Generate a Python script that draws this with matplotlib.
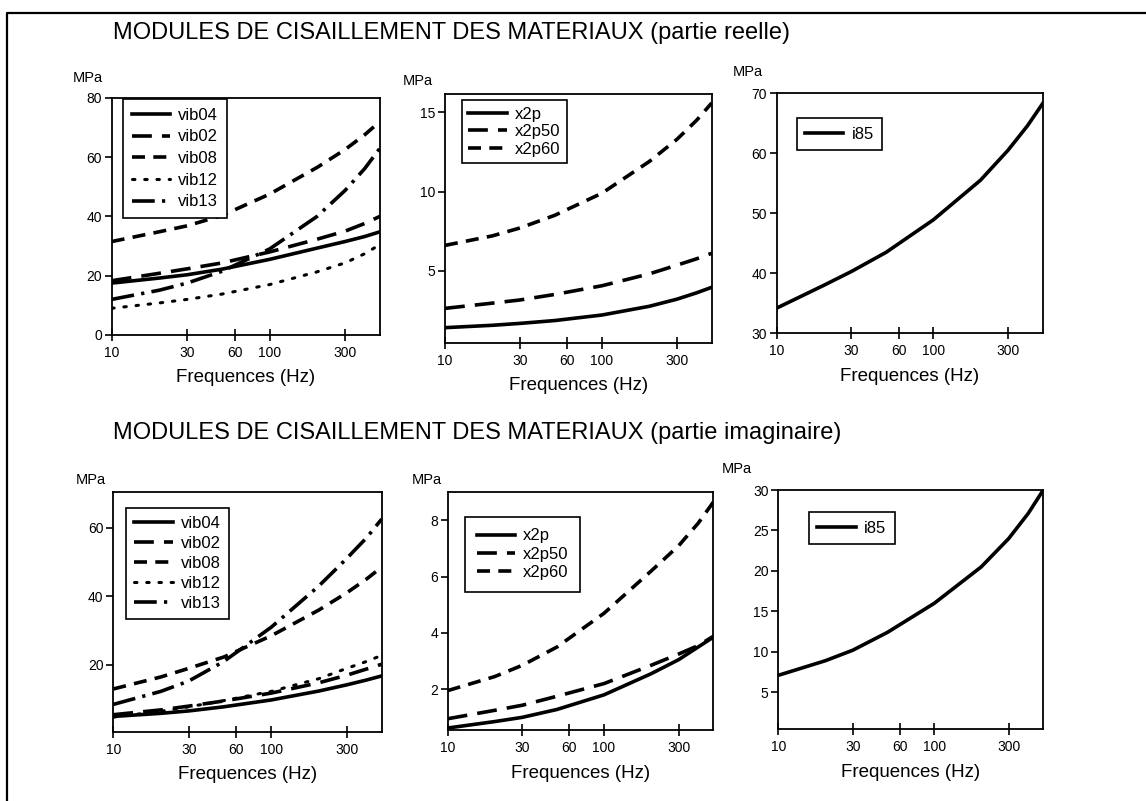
import matplotlib
matplotlib.use('Agg')
import matplotlib.pyplot as plt
from matplotlib.lines import Line2D

plt.rcParams['font.family'] = ['Liberation Sans', 'DejaVu Sans']

# frequencies (Hz) where the curves were read
freq = [10, 20, 30, 50, 100, 200, 300, 400, 500]

# partie reelle (MPa)
re_vib04 = [17.5, 19.2, 20.3, 22.2, 25.5, 29.3, 31.5, 33.2, 34.8]
re_vib02 = [18.3, 20.8, 22.3, 24.3, 28.0, 32.3, 35.0, 37.6, 40.0]
re_vib08 = [31.5, 34.8, 36.8, 40.3, 47.5, 56.5, 62.5, 67.5, 72.0]
re_vib12 = [9.0, 10.8, 12.0, 13.8, 17.0, 21.3, 24.3, 27.4, 30.5]
re_vib13 = [12.0, 15.1, 17.5, 21.5, 29.0, 40.0, 48.7, 56.1, 63.0]
re_x2p = [1.4, 1.55, 1.67, 1.85, 2.2, 2.75, 3.2, 3.6, 3.95]
re_x2p50 = [2.62, 2.95, 3.15, 3.5, 4.05, 4.8, 5.35, 5.75, 6.1]
re_x2p60 = [6.6, 7.2, 7.7, 8.5, 9.9, 11.9, 13.3, 14.5, 15.6]
re_i85 = [34.2, 38.0, 40.3, 43.5, 48.9, 55.5, 60.5, 64.6, 68.3]

# partie imaginaire (MPa)
im_vib04 = [5.0, 5.9, 6.6, 7.8, 9.8, 12.4, 14.2, 15.6, 16.8]
im_vib02 = [5.5, 6.9, 8.0, 9.5, 11.8, 14.8, 17.0, 18.8, 20.2]
im_vib08 = [13.0, 16.5, 19.0, 22.3, 28.5, 36.0, 41.0, 45.0, 48.5]
im_vib12 = [4.8, 6.5, 7.8, 9.6, 12.3, 16.0, 19.0, 21.0, 22.8]
im_vib13 = [8.5, 12.3, 15.3, 21.0, 31.0, 43.0, 51.0, 57.0, 62.5]
im_x2p = [0.62, 0.85, 1.0, 1.28, 1.8, 2.55, 3.05, 3.5, 3.85]
im_x2p50 = [0.95, 1.25, 1.43, 1.75, 2.2, 2.85, 3.25, 3.55, 3.88]
im_x2p60 = [1.95, 2.45, 2.85, 3.5, 4.7, 6.2, 7.1, 7.9, 8.65]
im_i85 = [7.1, 8.9, 10.2, 12.4, 16.0, 20.5, 24.0, 27.1, 30.0]

xticks = [10, 30, 60, 100, 300]
xlabels = ['10', '30', '60', '100', '300']

# line style of each material
solid = dict(linestyle='-', lw=2.6)
longdash = dict(linestyle=(0, (5.5, 2.8)), lw=2.6)
dash = dict(linestyle=(0, (3.6, 2.3)), lw=2.6)
dots = dict(linestyle=(0, (0.8, 3.2)), lw=2.2, dash_capstyle='round')
dashdot = dict(linestyle=(0, (6.3, 2.0, 0.9, 2.0)), lw=2.6)

fig = plt.figure(figsize=(11.46, 8.01), dpi=100)

def px(v):  # pixels -> points
    return v * 72.0 / 100.0

def panel(rect, curves, ylim, yticks, leg_xy, mpa_xy, lspace=0.3, bpad=0.5):
    ax = fig.add_axes(rect)
    for y, lab, st in curves:
        ax.plot(freq, y, color='black', label=lab, **st)
    ax.set_xscale('log')
    ax.set_xlim(10, 500)
    ax.set_ylim(*ylim)
    ax.set_xticks(xticks)
    ax.set_xticklabels(xlabels)
    ax.minorticks_off()
    ax.set_yticks(yticks)
    ax.tick_params(axis='y', direction='out', length=5, width=1.2, pad=2, labelsize=10)
    ax.tick_params(axis='x', direction='inout', length=8, width=1.2, pad=4, labelsize=10)
    for s in ax.spines.values():
        s.set_linewidth(1.3)
    ax.annotate('Frequences (Hz)', xy=(0.5, 0), xycoords='axes fraction',
                xytext=(0, -px(43)), textcoords='offset points',
                ha='center', va='center', fontsize=13.5)
    ax.annotate('MPa', xy=(0, 1), xycoords='axes fraction',
                xytext=(px(mpa_xy[0]), px(mpa_xy[1])), textcoords='offset points',
                ha='left', va='center', fontsize=10.5)
    leg = ax.legend(loc='upper left', bbox_to_anchor=leg_xy, borderaxespad=0,
                    fontsize=12, handlelength=2.3, handletextpad=0.5,
                    labelspacing=lspace, borderpad=bpad, fancybox=False,
                    framealpha=1, edgecolor='black')
    leg.get_frame().set_linewidth(1.2)
    return ax

W, H = 1146.0, 801.0
def rect(l, t, r, b):
    return [l / W, 1 - b / H, (r - l) / W, (b - t) / H]

panel(rect(111.7, 97.7, 380, 335),
      [(re_vib04, 'vib04', solid), (re_vib02, 'vib02', longdash),
       (re_vib08, 'vib08', dash), (re_vib12, 'vib12', dots),
       (re_vib13, 'vib13', dashdot)],
      (0, 80), [0, 20, 40, 60, 80], (0.043, 0.993), (-39, 20), lspace=0.4)

panel(rect(445, 94.3, 711.7, 342.7),
      [(re_x2p, 'x2p', solid), (re_x2p50, 'x2p50', longdash),
       (re_x2p60, 'x2p60', dash)],
      (0.45, 16.15), [5, 10, 15], (0.063, 0.977), (-42, 13), lspace=0.15, bpad=0.4)

panel(rect(776.7, 93.3, 1042.7, 333.3),
      [(re_i85, 'i85', solid)],
      (30, 70), [30, 40, 50, 60, 70], (0.075, 0.896), (-44, 21))

panel(rect(113.3, 492.3, 381.7, 731.7),
      [(im_vib04, 'vib04', solid), (im_vib02, 'vib02', longdash),
       (im_vib08, 'vib08', dash), (im_vib12, 'vib12', dots),
       (im_vib13, 'vib13', dashdot)],
      (0.55, 70.3), [20, 40, 60], (0.047, 0.936), (-38, 12), lspace=0.3)

panel(rect(447.7, 492.3, 713.3, 730),
      [(im_x2p, 'x2p', solid), (im_x2p50, 'x2p50', longdash),
       (im_x2p60, 'x2p60', dash)],
      (0.55, 9.0), [2, 4, 6, 8], (0.065, 0.897), (-36, 12), lspace=0.2, bpad=0.7)

panel(rect(778.3, 490, 1043.3, 729.3),
      [(im_i85, 'i85', solid)],
      (0.43, 30), [5, 10, 15, 20, 25, 30], (0.116, 0.907), (-57, 21))

fig.text(113 / W, 1 - 32.5 / H, 'MODULES DE CISAILLEMENT DES MATERIAUX (partie reelle)',
         ha='left', va='center', fontsize=17)
fig.text(113 / W, 1 - 433 / H, 'MODULES DE CISAILLEMENT DES MATERIAUX (partie imaginaire)',
         ha='left', va='center', fontsize=17)

# page border (left and top edges)
fig.add_artist(Line2D([6.7 / W, 6.7 / W, 1], [0, 1 - 13.3 / H, 1 - 13.3 / H],
                      transform=fig.transFigure, color='black', lw=1.6))

fig.savefig('out.png', dpi=100)
